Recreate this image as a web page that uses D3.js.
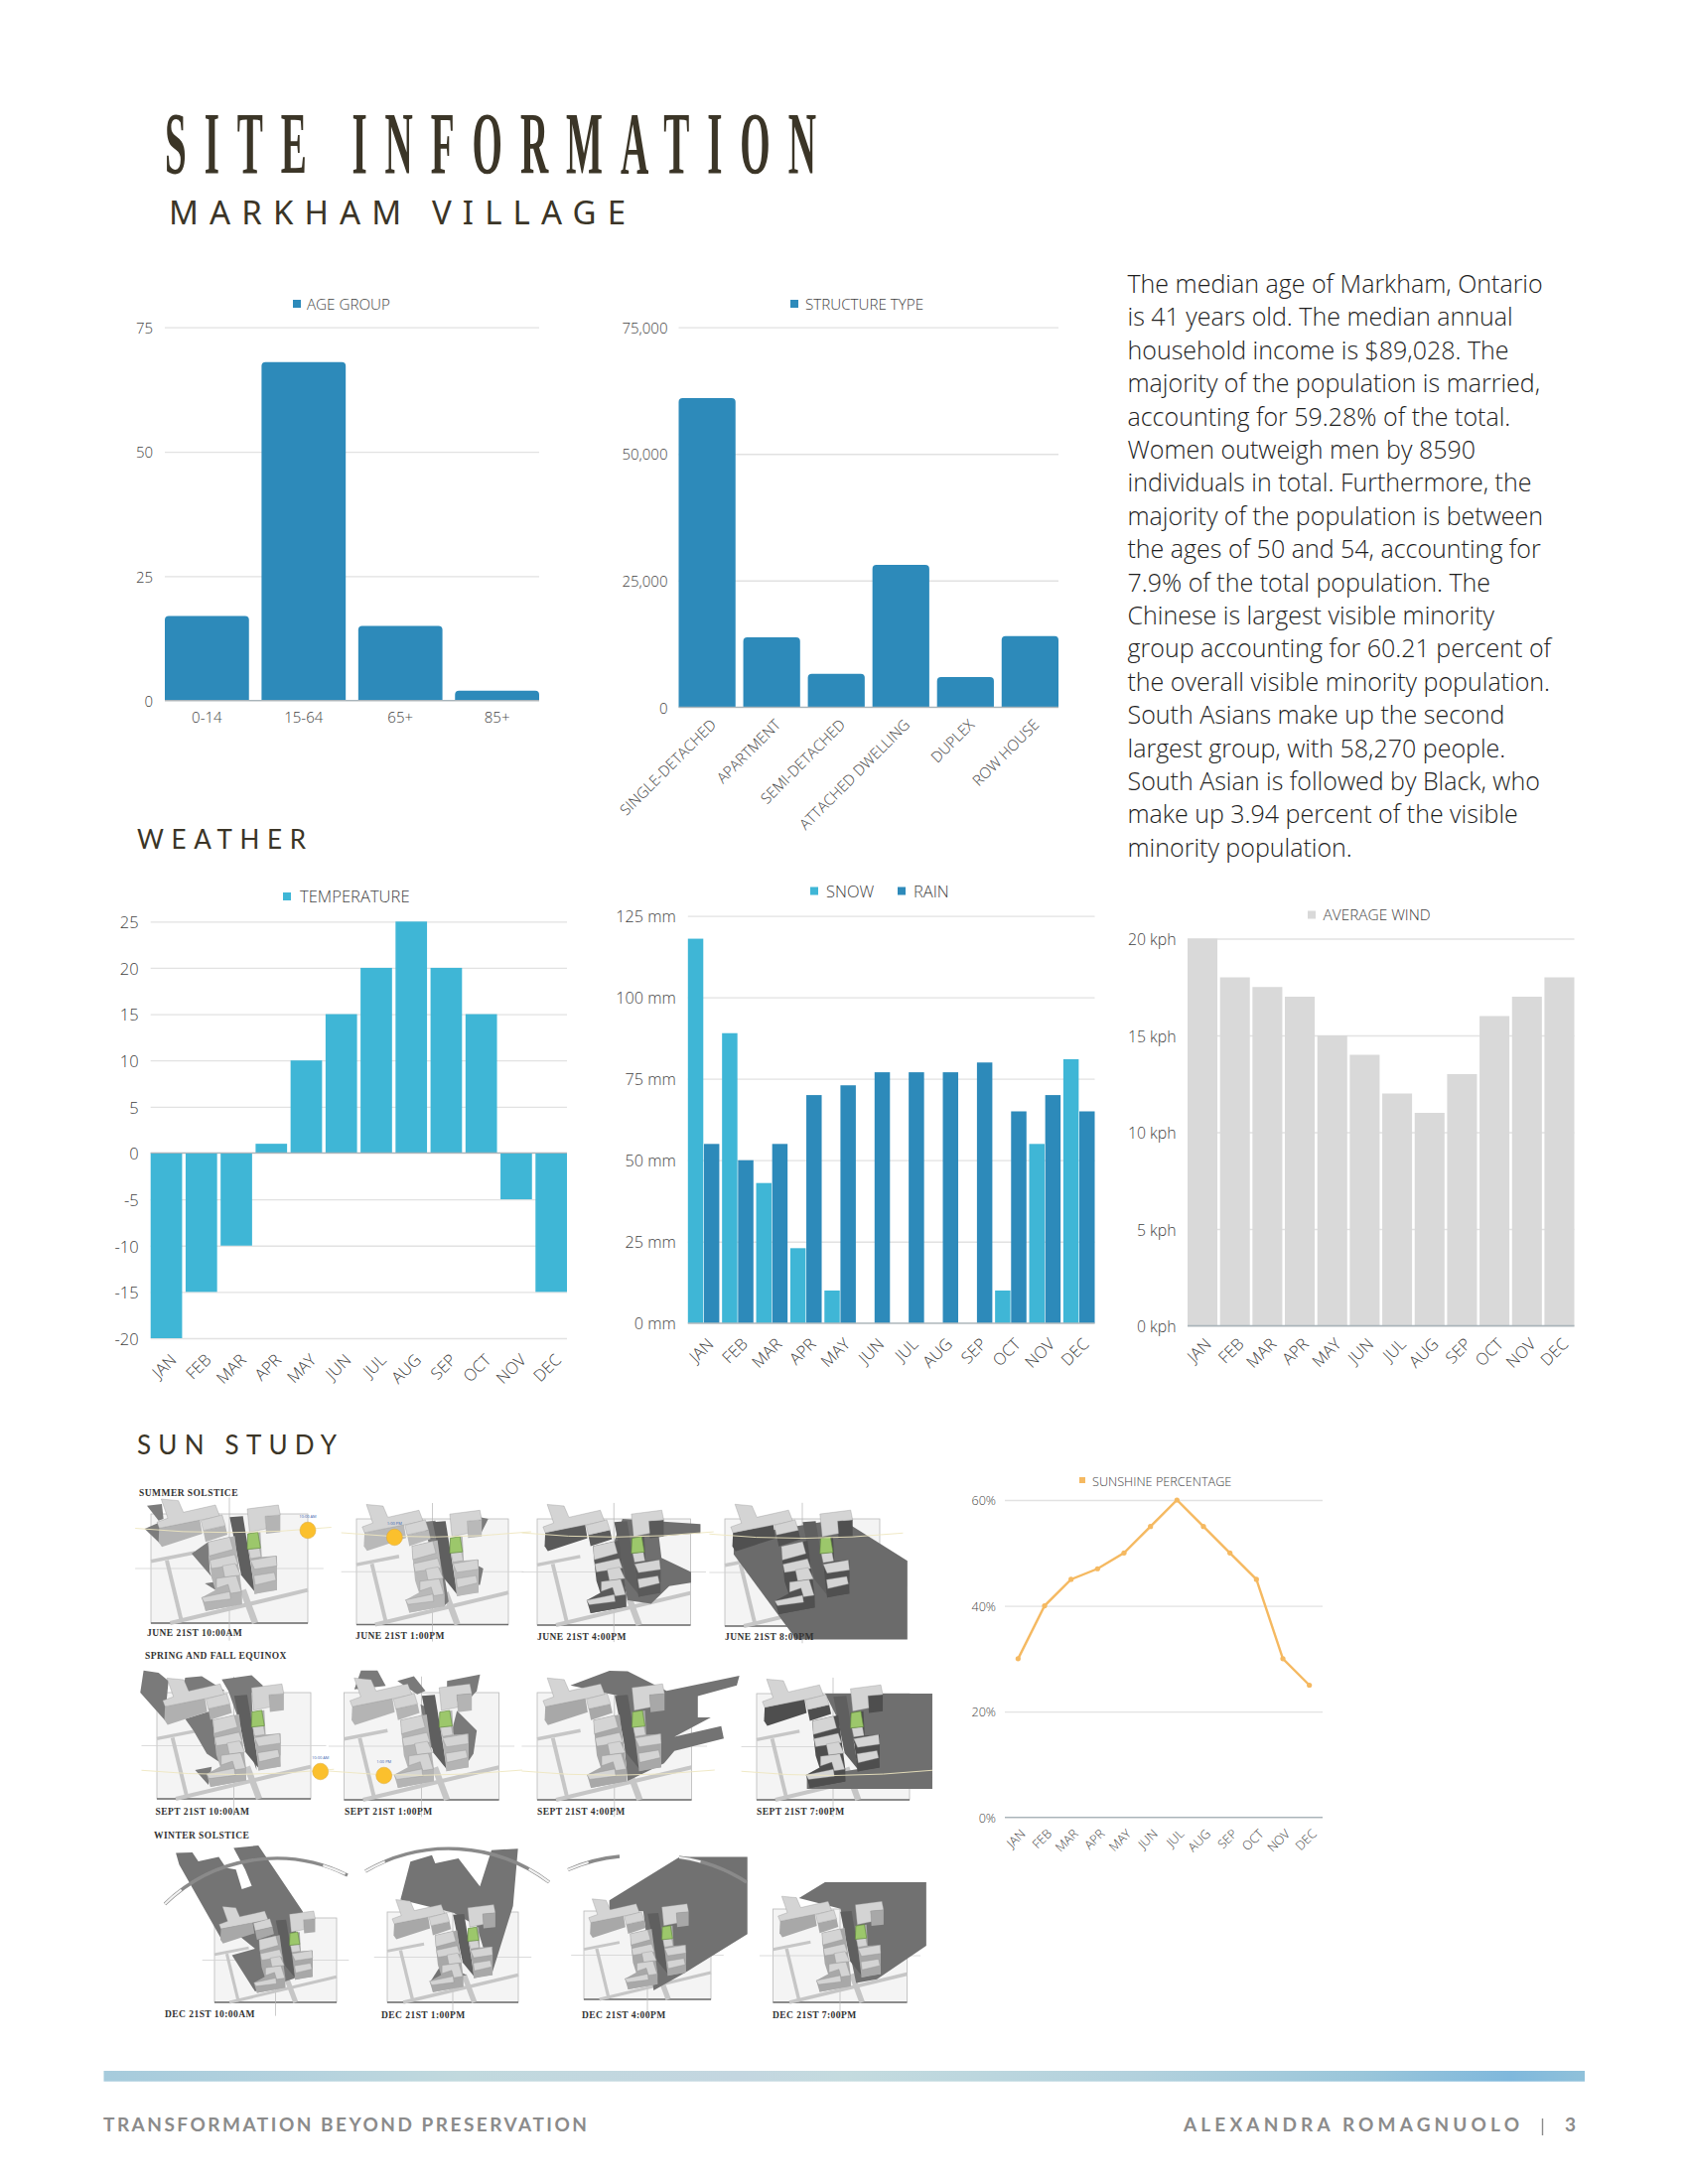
<!DOCTYPE html>
<html><head><meta charset="utf-8">
<script src="https://cdn.jsdelivr.net/npm/d3@7/dist/d3.min.js"></script>
<style>
html,body{margin:0;padding:0;background:#fff}
svg{display:block}
text{font-family:"Open Sans",sans-serif}
</style></head><body><div id="c"></div>
<script>
// ---------- chart data ----------
const months = ["JAN","FEB","MAR","APR","MAY","JUN","JUL","AUG","SEP","OCT","NOV","DEC"];
const ageGroups = ["0-14","15-64","65+","85+"];
const ageValues = [17,68,15,2];
const structureTypes = ["SINGLE-DETACHED","APARTMENT","SEMI-DETACHED","ATTACHED DWELLING","DUPLEX","ROW HOUSE"];
const structureValues = [61000,13800,6600,28100,5950,14050];
const temperature = [-20,-15,-10,1,10,15,20,25,20,15,-5,-15];
const snow = [118,89,43,23,10,0,0,0,0,10,55,81];
const rain = [55,50,55,70,73,77,77,77,80,65,70,65];
const wind = [20,18,17.5,17,15,14,12,11,13,16,17,18];
const sunshine = [30,40,45,47,50,55,60,55,50,45,30,25];
const paragraph = ["The median age of Markham, Ontario","is 41 years old. The median annual","household income is $89,028. The","majority of the population is married,","accounting for 59.28% of the total.","Women outweigh men by 8590","individuals in total. Furthermore, the","majority of the population is between","the ages of 50 and 54, accounting for","7.9% of the total population. The","Chinese is largest visible minority","group accounting for 60.21 percent of","the overall visible minority population.","South Asians make up the second","largest group, with 58,270 people.","South Asian is followed by Black, who","make up 3.94 percent of the visible","minority population."];

const BLUE="#2d8aba", CYAN="#3fb6d6", GREY="#d9d9d9", GOLD="#f5b961", INK="#3b3527", LABEL="#3f3f3f";
const svg=d3.select("#c").append("svg").attr("width",1700).attr("height",2200).attr("viewBox","0 0 1700 2200");
svg.append("rect").attr("width",1700).attr("height",2200).attr("fill","#fff");

// ---------- headings ----------
function fitted(str,x,y,len,size,font,weight,fill,sx){
  const t=svg.append("text").text(str).attr("font-size",size).attr("fill",fill)
    .style("font-family",font).style("font-weight",weight)
    .attr("textLength",len/(sx||1)).attr("lengthAdjust","spacing");
  t.attr("transform",`translate(${x},${y}) scale(${sx||1},1)`);
  return t;
}
fitted("SITE INFORMATION",166,174,656,89,'"Liberation Serif"',700,INK,.44);
fitted("MARKHAM VILLAGE",170,226,460,33,'"Noto Sans"',400,INK);
fitted("WEATHER",138,855,170,26,'Lato',400,INK);
fitted("SUN STUDY",138,1465,201,26,'Lato',400,INK);

// ---------- paragraph ----------
svg.append("g").selectAll("text").data(paragraph).join("text")
  .attr("x",1135.5).attr("y",(d,i)=>295+i*33.4).text(d=>d)
  .attr("font-size",25).attr("fill","#1e1e1e").style("font-weight",300);

// ---------- chart helpers ----------
function topRounded(x,y,w,base,r){
  r=Math.min(r,Math.abs(base-y));
  return `M${x},${base}V${y+r}Q${x},${y} ${x+r},${y}H${x+w-r}Q${x+w},${y} ${x+w},${y+r}V${base}Z`;
}
function frame(o){
  const g=svg.append("g");
  const y=d3.scaleLinear().domain(o.domain).range([o.bottom,o.top]);
  const ax=d3.axisLeft(y).tickValues(o.ticks).tickFormat(o.fmt).tickSize(o.right-o.left);
  const a=g.append("g").attr("transform",`translate(${o.right},0)`).call(ax);
  a.select(".domain").remove();
  a.selectAll(".tick line").attr("stroke","#e2e2e2").attr("stroke-width",1.3);
  a.selectAll(".tick text").attr("fill",LABEL).attr("font-size",o.fs||15)
    .style("font-family",'"Open Sans"').style("font-weight",300).attr("dy",".38em")
    .attr("x",-(o.right-o.left)-o.labelGap);
  return {g,y};
}
function baseline(g,x0,x1,y){g.append("line").attr("x1",x0).attr("x2",x1).attr("y1",y).attr("y2",y).attr("stroke","#a9b4ba").attr("stroke-width",1.3);}
function xLabels(g,x,names,y0,dx,fs){
  g.append("g").selectAll("text").data(names).join("text").text(d=>d)
    .attr("text-anchor","end").attr("font-size",fs||15).attr("fill",LABEL).style("font-weight",300)
    .attr("transform",d=>`translate(${x(d)+x.bandwidth()/2+dx},${y0}) rotate(-45)`);
}
function legend(items,y,fs){
  const g=svg.append("g");
  items.forEach(it=>{
    g.append("rect").attr("x",it.sq).attr("y",y-4).attr("width",it.size||8).attr("height",it.size||8).attr("fill",it.c);
    g.append("text").attr("x",it.tx).attr("y",y+(fs||15)*.38).text(it.t).attr("font-size",fs||15).attr("fill",LABEL).style("font-weight",300);
  });
}

// ---------- age group ----------
(function(){
  const f=frame({domain:[0,75],top:329.7,bottom:705.7,left:166,right:543,ticks:[0,25,50,75],fmt:String,labelGap:12});
  const x=d3.scaleBand().domain(ageGroups).range([166,543]).paddingInner(.13);
  f.g.selectAll(".b").data(ageValues).join("path").attr("fill",BLUE)
    .attr("d",(d,i)=>topRounded(x(ageGroups[i]),f.y(d),x.bandwidth(),f.y(0),4));
  baseline(f.g,166,543,f.y(0));
  f.g.append("g").selectAll("text").data(ageGroups).join("text").text(d=>d)
    .attr("x",d=>x(d)+x.bandwidth()/2).attr("y",727.5).attr("text-anchor","middle")
    .attr("font-size",15).attr("fill",LABEL).style("font-weight",300);
  legend([{sq:295,tx:309,t:"AGE GROUP",c:BLUE}],306,15.2);
})();

// ---------- structure type ----------
(function(){
  const f=frame({domain:[0,75000],top:329.7,bottom:712.3,left:683.5,right:1066,ticks:[0,25000,50000,75000],fmt:d3.format(","),labelGap:11});
  const x=d3.scaleBand().domain(structureTypes).range([683.5,1066]).paddingInner(.12);
  f.g.selectAll(".b").data(structureValues).join("path").attr("fill",BLUE)
    .attr("d",(d,i)=>topRounded(x(structureTypes[i]),f.y(d),x.bandwidth(),f.y(0),4));
  baseline(f.g,683.5,1066,f.y(0));
  xLabels(f.g,x,structureTypes,731,10);
  legend([{sq:796,tx:811,t:"STRUCTURE TYPE",c:BLUE}],306,15.2);
})();

// ---------- temperature ----------
(function(){
  const f=frame({domain:[-20,25],top:928.3,bottom:1348,left:151.7,right:571,ticks:d3.range(-20,26,5),fmt:String,labelGap:12,fs:16.5});
  const x=d3.scaleBand().domain(months).range([151.7,571]).paddingInner(.1);
  f.g.selectAll(".b").data(temperature).join("rect").attr("fill",CYAN)
    .attr("x",(d,i)=>x(months[i])).attr("width",x.bandwidth())
    .attr("y",d=>Math.min(f.y(d),f.y(0))).attr("height",d=>Math.abs(f.y(d)-f.y(0)));
  baseline(f.g,151.7,571,f.y(0));
  xLabels(f.g,x,months,1371,11,16.5);
  legend([{sq:285,tx:302,t:"TEMPERATURE",c:CYAN}],903,16.6);
})();

// ---------- snow and rain ----------
(function(){
  const f=frame({domain:[0,125],top:922.6,bottom:1332.8,left:692.8,right:1102.5,ticks:[0,25,50,75,100,125],fmt:d=>d+" mm",labelGap:12,fs:16.2});
  const x=d3.scaleBand().domain(months).range([692.8,1102.5]).paddingInner(.08);
  const inner=d3.scaleBand().domain(["snow","rain"]).range([0,x.bandwidth()]).paddingInner(.04);
  [["snow",snow,CYAN],["rain",rain,BLUE]].forEach(([k,vals,c])=>{
    f.g.append("g").selectAll("rect").data(vals).join("rect").attr("fill",c)
      .attr("x",(d,i)=>x(months[i])+inner(k)).attr("width",inner.bandwidth())
      .attr("y",d=>f.y(d)).attr("height",d=>f.y(0)-f.y(d));
  });
  baseline(f.g,692.8,1102.5,f.y(0));
  xLabels(f.g,x,months,1355,11,16.5);
  legend([{sq:816,tx:832,t:"SNOW",c:CYAN},{sq:904,tx:920,t:"RAIN",c:BLUE}],897.5,16.5);
})();

// ---------- wind ----------
(function(){
  const f=frame({domain:[0,20],top:945.5,bottom:1335.5,left:1196,right:1585.5,ticks:[0,5,10,15,20],fmt:d=>d+" kph",labelGap:11.5,fs:15.8});
  const x=d3.scaleBand().domain(months).range([1196,1585.5]).paddingInner(.08);
  f.g.selectAll(".b").data(wind).join("rect").attr("fill",GREY)
    .attr("x",(d,i)=>x(months[i])).attr("width",x.bandwidth())
    .attr("y",d=>f.y(d)).attr("height",d=>f.y(0)-f.y(d));
  baseline(f.g,1196,1585.5,f.y(0));
  xLabels(f.g,x,months,1355,10,16.5);
  legend([{sq:1317,tx:1332.5,t:"AVERAGE WIND",c:GREY}],921.5,15.4);
})();

// ---------- sunshine ----------
(function(){
  const f=frame({domain:[0,60],top:1511,bottom:1830.7,left:1012,right:1332,ticks:[0,20,40,60],fmt:d=>d+"%",labelGap:9,fs:12.6});
  const x=d3.scaleBand().domain(months).range([1012,1332]);
  baseline(f.g,1012,1332,f.y(0));
  const line=d3.line().x((d,i)=>x(months[i])+x.bandwidth()/2).y(d=>f.y(d));
  f.g.append("path").attr("d",line(sunshine)).attr("fill","none").attr("stroke",GOLD).attr("stroke-width",2.4);
  f.g.selectAll(".p").data(sunshine).join("circle").attr("r",2.6).attr("fill",GOLD)
    .attr("cx",(d,i)=>x(months[i])+x.bandwidth()/2).attr("cy",d=>f.y(d));
  xLabels(f.g,x,months,1848,8,12.6);
  legend([{sq:1087,tx:1100,t:"SUNSHINE PERCENTAGE",c:GOLD,size:6}],1492,12.7);
})();

// ---------- sun study diagrams ----------
const T=[67,105,541,435]; // frame that the building outlines were read in
const massing=[
 [[240,190],[320,172],[342,340],[342,378],[232,398],[220,358],[262,335],[250,298],[243,232]],
 [[358,165],[398,160],[402,235],[448,232],[448,335],[380,347],[368,245],[362,212]]];
const roofs=[
 [[98,60],[150,65],[165,100],[262,78],[275,112],[92,148],[85,130],[118,118]],
 [[218,125],[282,108],[292,140],[225,155]],
 [[240,190],[305,175],[315,212],[243,232]],
 [[245,245],[320,228],[330,258],[250,270]],
 [[283,262],[322,255],[338,290],[290,296]],
 [[265,300],[325,292],[340,340],[308,345],[300,318],[265,330]],
 [[220,358],[305,340],[308,362],[228,372]],
 [[358,90],[452,78],[458,108],[412,112],[415,150],[365,160]],
 [[362,212],[395,208],[400,235],[368,240]],
 [[368,245],[445,232],[448,262],[380,272]],
 [[378,292],[440,282],[445,305],[382,320]]];
const sides=[
 [[92,148],[215,122],[222,165],[100,205],[90,190]],
 [[225,155],[292,140],[298,168],[232,190]],
 [[243,232],[315,212],[320,228],[246,245]],
 [[250,270],[330,258],[332,285],[260,298]],
 [[265,330],[300,318],[305,350],[270,345]],
 [[228,372],[308,362],[340,345],[342,378],[232,398]],
 [[412,112],[458,108],[458,160],[415,165]],
 [[380,272],[448,262],[448,300],[382,312]],
 [[382,320],[445,305],[448,335],[410,340],[380,347]]];
const alley=[[305,115],[345,112],[382,342],[340,290]];
const greenLot=[[360,165],[390,160],[398,208],[358,212]];
const roads=[[[67,248],[200,222],3.5],[[115,245],[160,432],4],[[125,435],[541,335],4],[[345,335],[382,435],6.5]];

const panels=[
 {box:[152,1525,310,1635],src:T,side:"#b4b4b4",path:.15,shade:"#7c7c7c",polys:[[[55,80],[100,75],[105,120],[90,125]],[[48,150],[95,130],[95,195]],[[190,225],[240,190],[245,280],[250,295]],[[230,315],[265,310],[270,340]]],sun:[310,1541.5],clock:"10:00 AM"},
 {box:[359,1530,512,1636.5],src:[686,120,1146,440],side:"#b9b9b9",path:.15,shade:"#7c7c7c",polys:[[[885,130],[925,125],[965,370],[950,385],[920,240]],[[1060,115],[1085,120],[1060,170],[1040,175]],[[1050,260],[1070,270],[1060,320],[1050,320]]],sun:[397.3,1548.5],clock:"1:00 PM"},
 {box:[541,1530,695.5,1637],src:[786,140,1081,440],side:"#5a5a5a",path:.15,shade:"#6f6f6f",polys:[[[950,140],[1100,155],[1100,180],[1020,190],[1025,250],[1082,290],[1082,320],[1040,330],[1005,380],[960,370],[935,200]]]},
 {box:[730,1530,886,1638],src:[1148,140,1445,442],side:"#505050",path:.16,shade:"#6b6b6b",polys:[[[1165,190],[1370,140],[1498,258],[1498,480],[1285,480],[1165,240]]]},
 {box:[158,1705,313,1812],src:[85,645,548,967],side:"#b0b0b0",path:.75,shade:"#7a7a7a",polys:[[[45,578],[90,585],[120,610],[115,660],[110,730],[35,645]],[[170,600],[220,595],[290,640],[160,650]],[[280,605],[370,592],[405,625],[370,645],[375,760],[385,880],[300,640]],[[170,725],[250,700],[260,800],[280,860],[235,830],[195,760]],[[200,880],[250,870],[240,925]]],sun:[322.7,1784.5],clock:"10:00 AM"},
 {box:[346.5,1705,502.5,1813],src:[649,645,1117,970],side:"#b4b4b4",path:.75,shade:"#7a7a7a",polys:[[[700,578],[750,578],[775,625],[680,635]],[[810,610],[860,595],[895,640],[870,650]],[[880,680],[920,700],[945,840],[900,800]],[[960,610],[1060,590],[1050,640],[1005,690],[960,630]],[[990,700],[1050,760],[1040,830],[1020,860],[975,760]]],sun:[386.7,1788.5],clock:"1:00 PM"},
 {box:[541,1705,696.5,1813],src:[786,630,1083,933],side:"#a8a8a8",path:.75,shade:"#737373",polys:[[[850,610],[925,568],[960,570],[1035,625],[1175,582],[1170,610],[1095,640],[1095,700],[1120,700],[1050,755],[1140,725],[1145,760],[1050,795],[1030,830],[960,880],[945,640]]]},
 {box:[762,1706,916,1813],src:[1208,633,1503,933],side:"#4e4e4e",path:.75,shade:"#6f6f6f",polys:[[[1340,633],[1547,633],[1547,902],[1305,902],[1305,870],[1430,840],[1370,720]]]},
 {box:[216,1932,339,2017],src:[227,247,597,503],side:"#a8a8a8",path:null,shade:"#747474",polys:[[[110,50],[160,48],[178,75],[240,62],[262,95],[292,100],[310,160],[340,150],[320,100],[285,35],[360,27],[495,228],[470,300],[470,430],[350,470],[280,360],[350,340],[300,300],[250,315],[120,85]]],arcs:[[[166,1918],[350,1889],160]]},
 {box:[390,1926,522,2017],src:[750,228,1146,503],side:"#a8a8a8",path:null,shade:"#747474",polys:[[[820,75],[885,55],[895,80],[965,65],[1030,150],[1065,40],[1145,35],[1130,210],[1065,420],[1020,270],[950,230],[790,190]],[[880,440],[915,385],[990,420]]],arcs:[[[368,1885],[553,1896],167]]},
 {box:[588,1925,716,2014],src:[876,1245,1120,1495],side:"#a8a8a8",path:null,shade:"#717171",polys:[[[925,1215],[1060,1092],[1190,1092],[1190,1310],[1070,1420],[1010,1470],[990,1245],[925,1245]]],arcs:[[[684,1871],[752,1896],165],[[572,1883.5],[624,1870],165]]},
 {box:[778.5,1923,913.5,2017],src:[1240,1241,1498,1505],side:"#a8a8a8",path:null,shade:"#717171",polys:[[[1290,1210],[1340,1165],[1535,1165],[1535,1345],[1440,1440],[1400,1450],[1370,1240]]]}
];
const diagramLabels=[
 ["SUMMER SOLSTICE",140,1507],["JUNE 21ST 10:00AM",148,1648],["JUNE 21ST 1:00PM",358,1651],["JUNE 21ST 4:00PM",541,1652],["JUNE 21ST 8:00PM",730,1652],
 ["SPRING AND FALL EQUINOX",146,1671],["SEPT 21ST 10:00AM",156.5,1828],["SEPT 21ST 1:00PM",347,1828],["SEPT 21ST 4:00PM",541,1828],["SEPT 21ST 7:00PM",762,1828],
 ["WINTER SOLSTICE",155,1852],["DEC 21ST 10:00AM",166,2032],["DEC 21ST 1:00PM",384,2033],["DEC 21ST 4:00PM",586,2033],["DEC 21ST 7:00PM",778,2033]];

const dg=svg.append("g");
panels.forEach(p=>{
  const [x0,y0,x1,y1]=p.box, w=x1-x0, h=y1-y0;
  const tx=d3.scaleLinear().domain([T[0],T[2]]).range([x0,x1]), ty=d3.scaleLinear().domain([T[1],T[3]]).range([y0,y1]);
  const sx=d3.scaleLinear().domain([p.src[0],p.src[2]]).range([x0,x1]), sy=d3.scaleLinear().domain([p.src[1],p.src[3]]).range([y0,y1]);
  const tl=d3.line().x(d=>tx(d[0])).y(d=>ty(d[1])), sl=d3.line().x(d=>sx(d[0])).y(d=>sy(d[1]));
  const g=dg.append("g");
  g.append("rect").attr("x",x0).attr("y",y0).attr("width",w).attr("height",h).attr("fill","#f4f4f4").attr("stroke","#b9b9b9").attr("stroke-width",.8);
  g.append("line").attr("x1",x0).attr("x2",x1).attr("y1",y1).attr("y2",y1).attr("stroke","#6f6f6f").attr("stroke-width",1.4);
  g.append("line").attr("x1",x0-w*.1).attr("x2",x1+w*.1).attr("y1",y0+h*.5).attr("y2",y0+h*.5).attr("stroke","#d2d2d2").attr("stroke-width",.8);
  g.append("line").attr("x1",x0+w*.5).attr("x2",x0+w*.5).attr("y1",y0-h*.15).attr("y2",y1+h*.16).attr("stroke","#b5b5b5").attr("stroke-width",.7);
  roads.forEach(r=>g.append("line").attr("x1",tx(r[0][0])).attr("y1",ty(r[0][1])).attr("x2",tx(r[1][0])).attr("y2",ty(r[1][1])).attr("stroke","#c6c6c6").attr("stroke-width",r[2]*w/158));
  p.polys.forEach(q=>g.append("path").attr("d",sl(q)+"Z").attr("fill",p.shade));
  (p.arcs||[]).forEach(a=>{
    const d=`M${a[0][0]},${a[0][1]}A${a[2]},${a[2]} 0 0 1 ${a[1][0]},${a[1][1]}`;
    g.append("path").attr("d",d).attr("fill","none").attr("stroke","#8a8a8a").attr("stroke-width",3.4);
    g.append("path").attr("d",d).attr("fill","none").attr("stroke","#f2f2f2").attr("stroke-width",2.2).attr("stroke-dasharray","22 150 24 300");
  });
  g.append("path").attr("d",tl(alley)+"Z").attr("fill","#5f5f5f");
  massing.forEach(q=>g.append("path").attr("d",tl(q)+"Z").attr("fill",p.side));
  sides.forEach(q=>g.append("path").attr("d",tl(q)+"Z").attr("fill",p.side));
  roofs.forEach(q=>g.append("path").attr("d",tl(q)+"Z").attr("fill","#d4d4d4").attr("stroke","#8f8f8f").attr("stroke-width",.35));
  g.append("path").attr("d",tl(greenLot)+"Z").attr("fill","#9cc76b").attr("stroke","#5f8a3a").attr("stroke-width",.6);
  if(p.path!==null){
    const py=y0+h*p.path;
    g.append("path").attr("d",`M${x0-w*.1},${py-2}Q${x0+w*.5},${py+7} ${x1+w*.15},${py-3}`).attr("fill","none").attr("stroke","#eee6c0").attr("stroke-width",.9);
  }
  if(p.sun){
    g.append("ellipse").attr("cx",p.sun[0]).attr("cy",p.sun[1]).attr("rx",8).attr("ry",8.3).attr("fill","#fbc02d").attr("stroke","#d9a63a").attr("stroke-width",.5);
    g.append("text").attr("x",p.sun[0]).attr("y",p.sun[1]-13).attr("text-anchor","middle").attr("font-size",4).attr("fill","#3a5fb0").text(p.clock);
  }
});
dg.append("g").selectAll("text").data(diagramLabels).join("text").text(d=>d[0])
  .attr("x",d=>d[1]).attr("y",d=>d[2]).attr("font-size",9.5).attr("letter-spacing",.45).attr("fill","#333")
  .style("font-family",'"Liberation Serif"').style("font-weight",700);

// ---------- footer ----------
const defs=svg.append("defs");
const grad=defs.append("linearGradient").attr("id","band");
[[0,"#a6cbdc"],[.15,"#b6d3de"],[.24,"#c1d9de"],[.43,"#c3d6e0"],[.5,"#c4dbdf"],[.7,"#b2d1dd"],[.85,"#9ac6da"],[.95,"#7fb8dc"],[1,"#90c1da"]]
 .forEach(s=>grad.append("stop").attr("offset",s[0]).attr("stop-color",s[1]));
svg.append("rect").attr("x",104.5).attr("y",2086).attr("width",1491.5).attr("height",10.7).attr("fill","url(#band)");
fitted("TRANSFORMATION BEYOND PRESERVATION",104,2146.5,487,19,'Lato',700,"#8b8b8b");
fitted("ALEXANDRA ROMAGNUOLO",1192,2146.5,338,19,'Lato',700,"#8b8b8b");
svg.append("line").attr("x1",1553.5).attr("x2",1553.5).attr("y1",2134).attr("y2",2151).attr("stroke","#8b8b8b").attr("stroke-width",1.4);
fitted("3",1576,2146.5,12,19,'Lato',700,"#8b8b8b");
</script></body></html>
